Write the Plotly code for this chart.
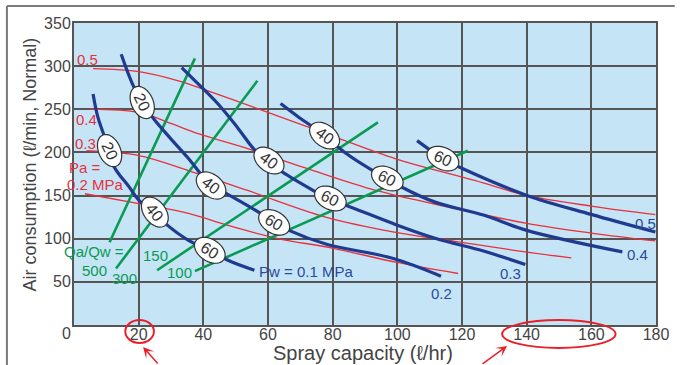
import math
import plotly.graph_objects as go

# ---------------- data ----------------
# Water pressure curves Pw (MPa): spray capacity x (l/hr), air consumption y (l/min)
pw_01_x = [5.9, 7.4, 11.0, 12.5, 17.1, 20.1, 24.7, 28.3, 35.4, 42.0, 47.6, 55.8]
pw_01_y = [267.6, 240.6, 202.1, 182.9, 159.8, 144.4, 130.9, 117.5, 98.2, 86.6, 75.1, 63.5]
pw_02_x = [14.6, 18.1, 21.1, 24.7, 29.9, 35.4, 42.4, 47.0, 57.7, 61.9, 66.5, 78.1, 98.5, 113.5]
pw_02_y = [313.8, 279.2, 257.9, 238.8, 216.0, 192.9, 161.7, 152.5, 129.4, 119.0, 109.7, 93.6, 77.4, 56.6]
pw_03_x = [33.3, 38.4, 44.5, 50.6, 56.1, 60.4, 63.8, 75.1, 79.6, 84.2, 98.5, 111.7, 126.9, 139.6]
pw_03_y = [298.4, 279.5, 256.4, 228.7, 202.1, 190.6, 179.0, 153.6, 144.4, 138.6, 117.8, 100.5, 85.5, 70.1]
pw_04_x = [63.9, 68.9, 77.5, 84.2, 92.4, 97.0, 101.6, 111.7, 126.9, 140.0, 169.6]
pw_04_y = [256.8, 242.6, 219.5, 198.7, 179.0, 169.8, 159.4, 142.4, 127.1, 109.7, 84.7]
pw_05_x = [106.1, 114.2, 120.8, 140.1, 159.9, 179.8]
pw_05_y = [213.7, 192.6, 180.2, 150.2, 128.2, 107.8]

# Air pressure curves Pa (MPa)
pa_05_x = [5.9, 20.1, 32.3, 38.4, 55.7, 74.0, 82.1, 99.5, 123.9, 140.0, 160.5, 179.8]
pa_05_y = [297.2, 293.7, 283.0, 275.3, 252.2, 227.2, 216.0, 192.6, 167.5, 150.2, 137.5, 127.9]
pa_04_x = [4.9, 20.1, 30.2, 38.4, 55.7, 72.0, 93.4, 117.8, 140.0, 160.5, 179.8]
pa_04_y = [250.3, 246.4, 233.3, 221.8, 202.1, 181.4, 155.9, 135.1, 117.8, 106.3, 97.4]
pa_03_x = [3.9, 20.1, 35.4, 53.7, 78.1, 99.5, 117.8, 136.1, 153.8]
pa_03_y = [202.1, 196.4, 179.0, 155.9, 124.8, 107.4, 97.0, 86.6, 77.7]
pa_02_x = [3.4, 20.1, 35.4, 47.6, 62.8, 80.2, 99.5, 118.8]
pa_02_y = [152.1, 140.6, 129.4, 115.5, 100.5, 88.9, 72.8, 59.7]

# Air/water ratio lines Qa/Qw (end points)
qr_500_x = [11.0, 37.4]
qr_500_y = [95.9, 309.0]
qr_300_x = [13.0, 56.7]
qr_300_y = [65.5, 283.0]
qr_150_x = [25.7, 94.0]
qr_150_y = [63.5, 234.8]
qr_100_x = [37.4, 121.8]
qr_100_y = [62.4, 202.0]

# Oval markers (water pressure curve labels): text, x, y, angle
oval_text = ["20", "40", "60", "20", "40", "60", "40", "60", "40", "60", "60"]
oval_x = [11.0, 25.0, 42.0, 21.1, 42.4, 61.9, 60.3, 79.3, 77.5, 96.9, 114.1]
oval_y = [202.1, 130.9, 86.6, 257.9, 161.7, 119.0, 190.6, 146.7, 219.5, 169.8, 192.9]
oval_ang = [65, 52, 32, 65, 38, 30, 36, 26, 36, 26, 25]

x_ticks = [20, 40, 60, 80, 100, 120, 140, 160, 180]
y_ticks = [50, 100, 150, 200, 250, 300, 350]

# ---------------- styling ----------------
BLUE = "#1f3a8f"
BLUE_T = "#2a4a9e"
RED = "#e8303c"
GREEN = "#0a9a52"
GRID = "#555555"
BG = "#c5e5f6"
FONT = "Liberation Sans, Arial, sans-serif"

W, H = 681, 365
L, R, T, B = 74, 17, 23, 40
PW, PH = W - L - R, H - T - B
XMAX, YMAX = 180, 350

fig = go.Figure()

for xs, ys in [(pa_05_x, pa_05_y), (pa_04_x, pa_04_y), (pa_03_x, pa_03_y), (pa_02_x, pa_02_y)]:
    fig.add_trace(go.Scatter(x=xs, y=ys, mode="lines", hoverinfo="skip",
                             line=dict(color=RED, width=1.3, shape="spline", smoothing=1.0)))

for xs, ys in [(qr_500_x, qr_500_y), (qr_300_x, qr_300_y), (qr_150_x, qr_150_y), (qr_100_x, qr_100_y)]:
    fig.add_trace(go.Scatter(x=xs, y=ys, mode="lines", hoverinfo="skip",
                             line=dict(color=GREEN, width=2.6)))

for xs, ys in [(pw_01_x, pw_01_y), (pw_02_x, pw_02_y), (pw_03_x, pw_03_y),
               (pw_04_x, pw_04_y), (pw_05_x, pw_05_y)]:
    fig.add_trace(go.Scatter(x=xs, y=ys, mode="lines", hoverinfo="skip",
                             line=dict(color=BLUE, width=3.2, shape="spline", smoothing=1.0)))

shapes = []
annotations = []

# oval labels: rotated ellipses built in pixel space, expressed in data units
sx = PW / XMAX
sy = PH / YMAX
A_PX, B_PX = 17, 11
for txt, xc, yc, ang in zip(oval_text, oval_x, oval_y, oval_ang):
    th = math.radians(ang)
    pts = []
    for k in range(49):
        t = 2 * math.pi * k / 48
        dx = A_PX * math.cos(t) * math.cos(th) - B_PX * math.sin(t) * math.sin(th)
        dy = A_PX * math.cos(t) * math.sin(th) + B_PX * math.sin(t) * math.cos(th)
        pts.append((xc + dx / sx, yc - dy / sy))
    path = "M " + " L ".join(f"{px:.3f},{py:.3f}" for px, py in pts) + " Z"
    shapes.append(dict(type="path", path=path, xref="x", yref="y", layer="above",
                       fillcolor="white", line=dict(color="#333333", width=1.2)))
    annotations.append(dict(x=xc, y=yc, xref="x", yref="y", text=txt, showarrow=False,
                            textangle=ang, font=dict(family=FONT, size=16, color="#333333")))

def lab(text, x, y, color, size=15, xanchor="center"):
    annotations.append(dict(x=x, y=y, xref="x", yref="y", text=text, showarrow=False,
                            xanchor=xanchor, yanchor="middle",
                            font=dict(family=FONT, size=size, color=color)))

# Pa labels
lab("0.5", 4.1, 308.1, RED)
lab("0.4", 3.9, 237.6, RED)
lab("0.3", 3.7, 210.6, RED)
lab("Pa =", 3.4, 182.9, RED)
lab("0.2 MPa", 6.8, 162.9, RED)
# Qa/Qw labels
lab("Qa/Qw =", 6.2, 84.7, GREEN)
lab("500", 6.4, 62.7, GREEN)
lab("300", 15.5, 53.9, GREEN)
lab("150", 25.1, 80.9, GREEN)
lab("100", 32.5, 60.4, GREEN)
# Pw labels
lab("Pw = 0.1 MPa", 71.8, 61.6, BLUE_T)
lab("0.2", 113.8, 36.6, BLUE_T)
lab("0.3", 135.0, 59.7, BLUE_T)
lab("0.4", 174.2, 81.7, BLUE_T)
lab("0.5", 176.7, 117.5, BLUE_T)

def pxx(x):
    return (x - L) / PW

def pyy(y):
    return (H - B - y) / PH

def plab(text, x, y, size, angle=0):
    annotations.append(dict(x=pxx(x), y=pyy(y), xref="paper", yref="paper", text=text,
                            showarrow=False, textangle=angle, xanchor="center", yanchor="middle",
                            font=dict(family=FONT, size=size, color="#444444")))

# origin "0", axis titles
plab("0", 66, 333, 16)
plab("Spray capacity (ℓ/hr)", 367, 353, 20)
plab("Air consumption (ℓ/min, Normal)", 29, 165, 18, angle=-90)

# outer frame lines
shapes.append(dict(type="line", xref="paper", yref="paper", x0=pxx(6), x1=pxx(W + 2), y0=pyy(6), y1=pyy(6),
                   line=dict(color="#7a7a7a", width=2)))
shapes.append(dict(type="line", xref="paper", yref="paper", x0=pxx(6), x1=pxx(6), y0=pyy(6), y1=pyy(H + 2),
                   line=dict(color="#7a7a7a", width=2)))

# red highlight marks
shapes.append(dict(type="circle", xref="paper", yref="paper", x0=pxx(126), x1=pxx(155), y0=pyy(343), y1=pyy(320),
                   line=dict(color="#e8202a", width=2)))
shapes.append(dict(type="circle", xref="paper", yref="paper", x0=pxx(508), x1=pxx(623), y0=pyy(348), y1=pyy(320),
                   line=dict(color="#e8202a", width=2)))
annotations.append(dict(x=pxx(144), y=pyy(347), xref="paper", yref="paper", ax=16, ay=20, text="",
                        showarrow=True, arrowhead=3, arrowsize=1.2, arrowwidth=1.5, arrowcolor="#e8202a"))
annotations.append(dict(x=pxx(513), y=pyy(346), xref="paper", yref="paper", ax=-26, ay=20, text="",
                        showarrow=True, arrowhead=3, arrowsize=1.2, arrowwidth=1.5, arrowcolor="#e8202a"))

fig.update_layout(
    width=W, height=H,
    margin=dict(l=L, r=R, t=T, b=B),
    paper_bgcolor="white", plot_bgcolor=BG,
    showlegend=False,
    shapes=shapes, annotations=annotations,
    font=dict(family=FONT, color="#444444"),
)
fig.update_xaxes(range=[0, XMAX], tickvals=x_ticks, ticktext=[str(v) for v in x_ticks],
                 showgrid=True, gridcolor=GRID, gridwidth=2, showline=True, linecolor=GRID,
                 linewidth=2, mirror=True, zeroline=False, ticks="", ticklabelstandoff=-6,
                 tickfont=dict(family=FONT, size=16, color="#444444"), fixedrange=True)
fig.update_yaxes(range=[0, YMAX], tickvals=y_ticks, ticktext=[str(v) for v in y_ticks],
                 showgrid=True, gridcolor=GRID, gridwidth=2, showline=True, linecolor=GRID,
                 linewidth=2, mirror=True, zeroline=False, ticks="", ticklabelstandoff=-2,
                 tickfont=dict(family=FONT, size=16, color="#444444"), fixedrange=True)

fig.write_html("out.html")
